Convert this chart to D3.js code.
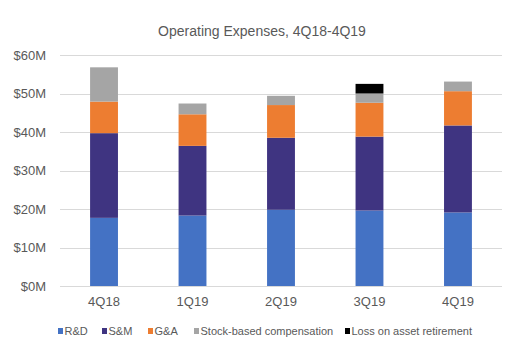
<!DOCTYPE html>
<html>
<head>
<meta charset="utf-8">
<script src="https://cdn.jsdelivr.net/npm/d3@7"></script>
<style>
  body { margin: 0; background: #fff; }
  svg { display: block; font-family: "Liberation Sans", Arial, sans-serif; }
</style>
</head>
<body>
<svg id="chart" width="530" height="361"></svg>
<script>
(function (d3) {
	"use strict";

	/***** Data *****/
	var quarters = ["4Q18", "1Q19", "2Q19", "3Q19", "4Q19"];
	var seriesNames = ["R&D", "S&M", "G&A", "Stock-based compensation", "Loss on asset retirement"];
	var seriesColors = ["#4472C4", "#3F3481", "#ED7D31", "#A5A5A5", "#000000"];

	// values in $M
	var rnd  = [17.7, 18.3, 19.8, 19.6, 19.1];
	var snm  = [22.0, 18.1, 18.7, 19.2, 22.6];
	var gna  = [8.2, 8.2, 8.5, 8.8, 8.9];
	var sbc  = [8.9, 2.8, 2.4, 2.4, 2.5];
	var loss = [0, 0, 0, 2.5, 0];

	var yTicks = [0, 10, 20, 30, 40, 50, 60];

	/***** Layout *****/
	var svg = d3.select("#chart");
	var margin = { left: 60, right: 28, top: 55, bottom: 75 };
	var width = 530, height = 361;

	var x = d3.scaleBand()
		.domain(quarters)
		.range([margin.left, width - margin.right])
		.paddingInner(0.685)
		.paddingOuter(0.34);

	var y = d3.scaleLinear()
		.domain([0, 60])
		.range([height - margin.bottom, margin.top]);

	// Build table for stacking
	var series = [rnd, snm, gna, sbc, loss];
	var table = quarters.map(function (q, i) {
		var row = { quarter: q };
		seriesNames.forEach(function (name, j) { row[name] = series[j][i]; });
		return row;
	});
	var stacked = d3.stack().keys(seriesNames)(table);

	/***** Title *****/
	svg.append("text")
		.attr("x", 262)
		.attr("y", 36)
		.attr("text-anchor", "middle")
		.attr("font-size", 14)
		.attr("fill", "#595959")
		.text("Operating Expenses, 4Q18-4Q19");

	/***** Gridlines + y labels *****/
	var grid = svg.append("g");
	grid.selectAll("line")
		.data(yTicks)
		.enter().append("line")
		.attr("x1", margin.left)
		.attr("x2", width - margin.right)
		.attr("y1", function (d) { return Math.round(y(d)) + 0.5; })
		.attr("y2", function (d) { return Math.round(y(d)) + 0.5; })
		.attr("stroke", "#D9D9D9")
		.attr("stroke-width", 1);

	grid.selectAll("text")
		.data(yTicks)
		.enter().append("text")
		.attr("x", 46)
		.attr("y", function (d) { return y(d); })
		.attr("dy", "0.35em")
		.attr("text-anchor", "end")
		.attr("font-size", 13)
		.attr("fill", "#595959")
		.text(function (d) { return "$" + d + "M"; });

	/***** Bars *****/
	svg.append("g")
		.selectAll("g")
		.data(stacked)
		.enter().append("g")
		.attr("fill", function (d, i) { return seriesColors[i]; })
		.selectAll("rect")
		.data(function (d) { return d; })
		.enter().append("rect")
		.attr("x", function (d) { return x(d.data.quarter); })
		.attr("width", x.bandwidth())
		.attr("y", function (d) { return y(d[1]); })
		.attr("height", function (d) { return Math.max(0, y(d[0]) - y(d[1])); });

	/***** X labels *****/
	svg.append("g")
		.selectAll("text")
		.data(quarters)
		.enter().append("text")
		.attr("x", function (d) { return x(d) + x.bandwidth() / 2; })
		.attr("y", 306)
		.attr("text-anchor", "middle")
		.attr("font-size", 13)
		.attr("fill", "#595959")
		.text(function (d) { return d; });

	/***** Legend *****/
	var legendX = [58, 102, 148, 194, 345];
	var legend = svg.append("g");
	var items = legend.selectAll("g")
		.data(seriesNames)
		.enter().append("g")
		.attr("transform", function (d, i) { return "translate(" + legendX[i] + ",331)"; });

	items.append("rect")
		.attr("x", 0)
		.attr("y", -3)
		.attr("width", 5)
		.attr("height", 6)
		.attr("fill", function (d, i) { return seriesColors[i]; });

	items.append("text")
		.attr("x", 6.5)
		.attr("y", 0)
		.attr("dy", "0.35em")
		.attr("font-size", 11)
		.attr("fill", "#595959")
		.text(function (d) { return d; });

})(d3);
</script>
</body>
</html>
